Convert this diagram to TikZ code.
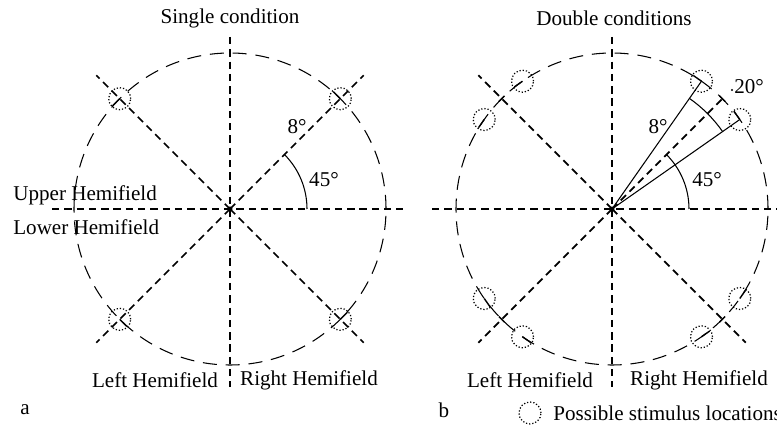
\documentclass[tikz,border=0pt]{standalone}
\usepackage{fontspec}
\setmainfont{Liberation Serif}

\begin{document}
\begin{tikzpicture}[
    x=0.02cm, y=0.02cm,
    every node/.style={font=\fontsize{12}{14}\selectfont, inner sep=0pt},
    axis/.style={line width=1pt, dash pattern=on 4.2pt off 2.8pt},
    rim/.style={line width=0.6pt, dash pattern=on 8pt off 5pt},
    spot/.style={circle, draw, line width=0.7pt, dash pattern=on 0.7pt off 1.1pt, minimum size=0.44cm},
    tick/.style={line width=0.8pt},
    ray/.style={line width=0.6pt}
  ]
  \useasboundingbox (0,0) rectangle (777,426);

  % panel a
  \coordinate (ca) at (230,217);
  \coordinate (ca-n) at (230,389);
  \coordinate (ca-s) at (230,39);
  \coordinate (ca-w) at (52,217);
  \coordinate (ca-e) at (403,217);
  \draw[rim] (ca) circle (156);
  \draw[axis] (ca-n) -- (ca-s);
  \draw[axis] (ca-w) -- (ca-e);
  \foreach \a in {45,135,225,315} {
    \path (ca) ++(\a:189) coordinate (ca-\a);
    \draw[axis] (ca) -- (ca-\a);
    \path (ca) ++(\a:156) node[spot] (sa-\a) {};
    \draw[tick] (sa-\a.center) -- ++(\a+90:10);
  }
  \fill (ca) circle (2.5);
  \draw[ray] (ca) ++(77,0) arc[start angle=0, end angle=45, radius=77];

  \node (titlea) at (230,408) {Single condition};
  \node (eighta) at (297,299) {8°};
  \node (fortya) at (324,246) {45°};
  \node[anchor=west] (upper) at (13,231) {Upper Hemifield};
  \node[anchor=west] (lower) at (13,199) {Lower Hemifield};
  \node (lefta) at (155,46) {Left Hemifield};
  \node (righta) at (309,46) {Right Hemifield};
  \node (taga) at (25,16) {a};

  % panel b
  \coordinate (cb) at (612,217);
  \coordinate (cb-n) at (612,389);
  \coordinate (cb-s) at (612,39);
  \coordinate (cb-w) at (432,217);
  \coordinate (cb-e) at (790,217);
  \draw[rim] (cb) circle (156);
  \draw[axis] (cb-n) -- (cb-s);
  \draw[axis] (cb-w) -- (cb-e);
  \foreach \a in {135,225,315} {
    \path (cb) ++(\a:189) coordinate (cb-\a);
    \draw[axis] (cb) -- (cb-\a);
  }
  \path (cb) ++(45:156) coordinate (cb-45);
  \draw[axis] (cb) -- (cb-45);
  \foreach \a in {45,135,225,315} {
    \draw[tick] (cb) ++(\a:156) ++(\a+90:4) -- ++(\a-90:8);
  }
  \foreach \a in {35,55,125,145,215,235,305,325} {
    \path (cb) ++(\a:156) node[spot] (sb-\a) {};
    \draw[tick] (sb-\a.center) -- ++(\a+90:10);
  }
  \draw[ray] (cb) -- (sb-35.center);
  \draw[ray] (cb) -- (sb-55.center);
  \fill (cb) circle (2.5);
  \draw[ray] (cb) ++(77,0) arc[start angle=0, end angle=45, radius=77];
  \draw[ray] (cb) ++(35:135) arc[start angle=35, end angle=55, radius=135];

  \node (titleb) at (614,408) {Double conditions};
  \node (eightb) at (658,299) {8°};
  \node (fortyb) at (707,246) {45°};
  \node (twenty) at (749,339) {20°};
  \fill (732,336) circle (1.2);
  \node (leftb) at (530,46) {Left Hemifield};
  \node (rightb) at (699,46) {Right Hemifield};
  \node (tagb) at (444,16) {b};
  \node[spot] (key) at (530,13) {};
  \node[anchor=west] (keytext) at (553,13) {Possible stimulus locations};
\end{tikzpicture}
\end{document}
